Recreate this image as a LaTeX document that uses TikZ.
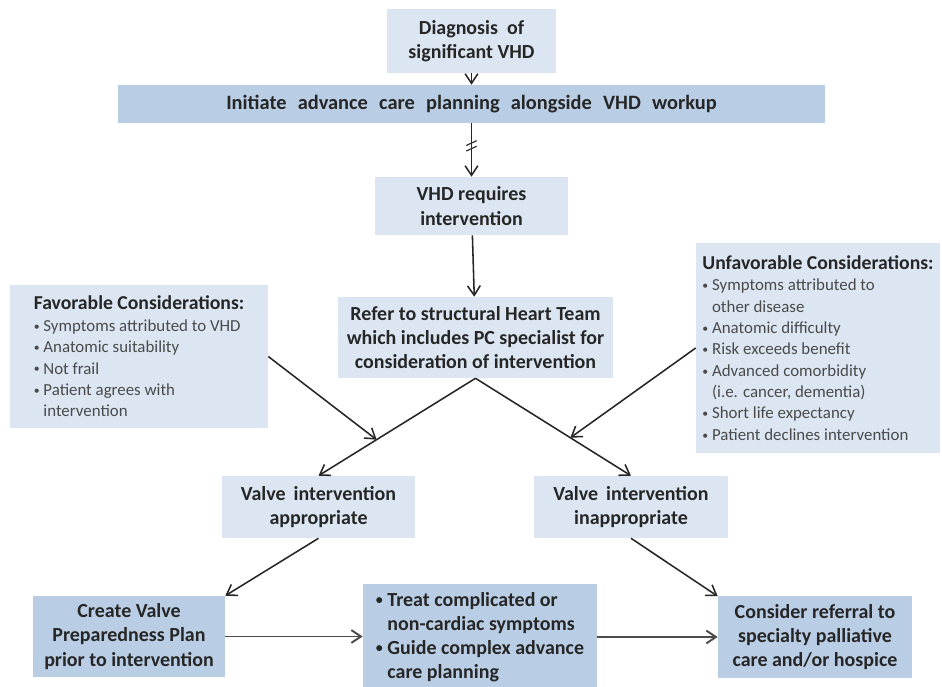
\documentclass[tikz,border=0pt]{standalone}
\usepackage{fontspec}
\setmainfont{Carlito}
\usetikzlibrary{arrows.meta}
\definecolor{paleblue}{HTML}{DCE6F2}
\definecolor{midblue}{HTML}{B9CDE5}
\definecolor{inkgray}{HTML}{262626}
\definecolor{listgray}{HTML}{4A4A4A}
\newcommand\lbul{\raisebox{0.15ex}{\scalebox{0.7}{\textbullet}}\ }

\begin{document}
\begin{tikzpicture}[x=0.025cm,y=-0.025cm,
    box/.style={fill=paleblue,text=inkgray,align=center,inner sep=2pt,
        font=\fontsize{14.2}{17.2}\selectfont\bfseries},
    darkbox/.style={box,fill=midblue},
    listbox/.style={fill=paleblue,text=listgray,align=left,inner sep=2pt,
        font=\fontsize{12}{15.2}\selectfont},
    arr/.style={line width=1.1pt,draw=inkgray,-{Straight Barb[length=2.4mm,width=3.2mm]}}]
    \useasboundingbox (0,0) rectangle (942,686);
    \node[box,minimum width=4.225cm,minimum height=1.6cm] (diag) at (471.5,41) {\spaceskip=0.45em Diagnosis of\\significant VHD};
    \node[darkbox,minimum width=17.675cm,minimum height=0.95cm] (acp) at (471.5,104) {\fontsize{14.5}{17}\selectfont\spaceskip=0.55em Initiate advance care planning alongside VHD workup};
    \node[box,minimum width=4.825cm,minimum height=1.45cm] (req) at (471.5,206) {VHD requires\\intervention};
    \node[box,minimum width=6.875cm,minimum height=2.025cm] (team) at (475.5,337.5) {Refer to structural Heart Team\\which includes PC specialist for\\consideration of intervention};
    \node[listbox,minimum width=6.45cm,minimum height=3.575cm] (fav) at (139,356.5) {%
        {\color{inkgray}\bfseries\fontsize{14}{15}\selectfont Favorable Considerations:}\\
        \lbul Symptoms attributed to VHD\\
        \lbul Anatomic suitability\\
        \lbul Not frail\\
        \lbul Patient agrees with\\
        \phantom{\lbul}intervention};
    \node[listbox,minimum width=6.1cm,minimum height=5.25cm] (unfav) at (818,348) {%
        {\color{inkgray}\bfseries\fontsize{14}{15}\selectfont Unfavorable Considerations:}\\
        \lbul Symptoms attributed to\\
        \phantom{\lbul}other disease\\
        \lbul Anatomic difficulty\\
        \lbul Risk exceeds benefit\\
        \lbul Advanced comorbidity\\
        \phantom{\lbul}(i.e. cancer, dementia)\\
        \lbul Short life expectancy\\
        \lbul Patient declines intervention};
    \node[box,minimum width=4.825cm,minimum height=1.55cm] (appr) at (318.5,507) {\spaceskip=0.4em Valve intervention\\appropriate};
    \node[box,minimum width=4.85cm,minimum height=1.55cm] (inappr) at (631,507) {\spaceskip=0.4em Valve intervention\\inappropriate};
    \node[darkbox,minimum width=4.8cm,minimum height=2.025cm] (plan) at (129,636.5) {Create Valve\\Preparedness Plan\\prior to intervention};
    \node[darkbox,minimum width=5.85cm,minimum height=2.65cm,align=left] (treat) at (480,637) {%
        \lbul Treat complicated or\\
        \phantom{\lbul}non-cardiac symptoms\\
        \lbul Guide complex advance\\
        \phantom{\lbul}care planning};
    \node[darkbox,minimum width=4.85cm,minimum height=2.025cm] (hospice) at (815,637) {Consider referral to\\specialty palliative\\care and/or hospice};

    \draw[arr] (diag) -- (acp);
    \draw[arr] (acp) -- coordinate[pos=0.4] (brk) (req);
    \draw[line width=0.8pt,draw=inkgray] ([shift={(-0.13cm,-0.02cm)}]brk) -- ([shift={(0.13cm,0.1cm)}]brk);
    \draw[line width=0.8pt,draw=inkgray] ([shift={(-0.13cm,-0.16cm)}]brk) -- ([shift={(0.13cm,-0.04cm)}]brk);
    \draw[arr] (req) -- (team);
    \draw[arr] (team.south) -- coordinate[pos=0.63] (ja) (appr.north);
    \draw[arr] (team.south) -- coordinate[pos=0.61] (jb) (inappr.north);
    \draw[arr] (fav.east) -- (ja);
    \draw[arr] (unfav.west) -- (jb);
    \draw[arr] (appr.south) -- (plan.north east);
    \draw[arr] (inappr.south) -- (hospice.north west);
    \draw[arr,line width=1.4pt,draw=black!70] (plan.east) -- (plan.east -| treat.west);
    \draw[arr,line width=1.4pt,draw=black!70] (treat.east |- hospice.west) -- (hospice.west);
\end{tikzpicture}
\end{document}
